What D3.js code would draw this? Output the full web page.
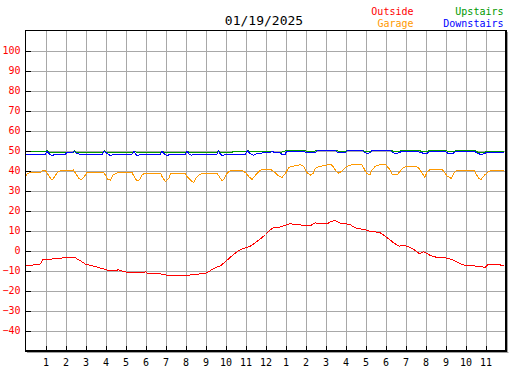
<!DOCTYPE html>
<html>
<head>
<meta charset="utf-8">
<script src="https://cdn.jsdelivr.net/npm/d3@7"></script>
<style>
  body { margin: 0; background: #fff; }
  text { font-family: "DejaVu Sans Mono", monospace; }
</style>
</head>
<body>
<svg id="chart" width="527" height="370"></svg>
<script>
// --- data: [hour, degrees] ---
var title = "01/19/2025";
var hourTicks = d3.range(1, 24);
var tempTicks = d3.range(-40, 101, 10);

var outside = [[0,-7.5],[0.25,-7.5],[0.5,-7.0],[0.75,-6.7],[0.85,-4.6],[1,-4.5],[1.25,-4.5],[1.4,-4.0],[1.75,-4.0],[1.9,-3.5],[2.25,-3.5],[2.5,-3.7],
  [2.75,-5.2],[3,-6.8],[3.25,-7.5],[3.5,-8.1],[3.75,-8.8],[4,-9.5],[4.1,-9.9],[4.55,-9.9],[4.65,-9.6],[4.75,-10.0],[5,-10.7],[5.25,-11.1],[5.85,-11.2],
  [6.0,-10.6],[6.1,-11.6],[6.75,-11.7],[6.9,-12.2],[7.3,-12.4],[7.5,-12.6],[7.75,-12.6],[8,-12.5],[8.25,-12.2],[8.5,-11.8],[8.9,-11.7],[9.05,-11.2],
  [9.25,-10.0],[9.5,-8.5],[9.75,-7.7],[10,-5.5],[10.25,-3.3],[10.5,-1.2],[10.75,0.5],[11,1.4],[11.25,2.2],[11.5,4.0],[11.75,5.8],[12,8.0],
  [12.25,10.5],[12.4,11.3],[12.6,11.3],[12.75,11.8],[13,12.6],[13.3,13.6],[13.35,13.0],[13.75,12.8],[14,12.3],[14.25,12.5],[14.5,13.8],[14.75,13.4],
  [15.1,13.3],[15.25,14.5],[15.5,15.0],[15.7,13.8],[16.05,13.3],[16.25,12.8],[16.5,11.3],[16.75,10.8],[17,10.3],[17.25,9.5],[17.7,9.1],[17.9,7.8],
  [18.2,5.5],[18.45,3.5],[18.7,2.2],[18.95,2.5],[19.2,1.6],[19.45,0.3],[19.7,-1.6],[19.9,-0.6],[20.25,-2.5],[20.55,-3.4],[21.1,-3.8],[21.35,-4.7],
  [21.75,-6.7],[22.1,-7.7],[22.8,-7.8],[22.95,-8.7],[23.1,-7.2],[23.5,-7.0],[23.7,-7.1],[23.9,-7.7]];

var garage = [[0,36.6],[0.1,38.6],[0.25,38.9],[0.75,38.9],[0.83,39.9],[1,40.0],[1.08,38.6],[1.25,36.1],[1.33,35.2],[1.45,36.9],[1.58,38.9],
  [1.75,40.0],[2.25,40.0],[2.4,40.3],[2.5,38.6],[2.67,36.1],[2.78,35.2],[2.92,36.6],[3.05,38.8],[3.25,39.2],[3.9,39.2],[4,37.7],[4.12,35.4],
  [4.25,35.2],[4.38,37.7],[4.6,38.9],[5.33,38.9],[5.42,37.2],[5.58,34.7],[5.72,35.5],[5.83,38.0],[6,38.6],[6.75,38.6],[6.83,36.9],[7,34.4],
  [7.17,36.1],[7.25,38.4],[8,38.4],[8.08,36.9],[8.28,34.9],[8.42,33.9],[8.5,36.1],[8.67,37.7],[8.83,38.6],[9.58,38.6],[9.67,37.2],[9.83,34.9],
  [9.95,36.1],[10.08,38.6],[10.25,40.0],[10.83,40.0],[11,38.9],[11.17,36.9],[11.33,35.5],[11.5,37.7],[11.75,40.2],[12,40.6],[12.25,40.6],
  [12.42,39.4],[12.67,37.2],[12.83,36.6],[13,38.6],[13.17,41.6],[13.42,42.2],[13.75,42.9],[13.92,41.9],[14.08,38.9],[14.25,37.7],[14.38,38.6],
  [14.5,41.1],[14.67,41.9],[15,42.6],[15.25,43.2],[15.38,41.9],[15.55,39.4],[15.67,38.6],[15.83,39.9],[16.05,41.9],[16.33,42.9],[16.75,42.9],
  [16.8,43.2],[16.92,41.1],[17.05,38.6],[17.22,37.9],[17.33,40.2],[17.5,42.2],[17.75,42.9],[18,42.9],[18.17,41.1],[18.33,38.2],[18.58,37.7],
  [18.75,39.9],[18.92,41.6],[19.17,42.2],[19.5,42.2],[19.67,41.1],[19.83,38.6],[19.97,36.6],[20.08,39.4],[20.25,40.6],[20.83,40.6],[20.92,39.4],
  [21.08,37.2],[21.28,36.1],[21.42,38.6],[21.58,40.2],[22.42,40.2],[22.5,38.6],[22.67,36.1],[22.78,35.5],[22.95,37.7],[23.17,39.6],[23.4,40.2],[23.9,40.2]];

var upstairs = [[0,49.7],[1,49.6],[1.08,50.0],[1.2,49.2],[2.4,49.2],[2.45,49.8],[2.55,49.2],[3.9,49.2],[3.95,49.8],[4.05,49.2],[5.4,49.2],
  [5.45,49.7],[5.55,49.2],[6.8,49.2],[6.85,49.7],[6.95,49.2],[8.05,49.2],[8.1,49.7],[8.2,49.2],[9.6,49.2],[9.65,49.7],[9.75,49.2],[11.05,49.3],
  [11.1,50.0],[11.25,49.4],[12.2,49.4],[12.35,49.5],[12.5,49.0],[12.8,49.2],[13,49.8],[14,49.8],[14.1,49.4],[14.4,49.4],[14.5,49.9],[15.6,49.9],
  [15.7,49.4],[15.95,49.4],[16.05,50.0],[16.9,50.0],[17,49.4],[17.2,49.4],[17.3,50.0],[18.3,50.0],[18.4,49.5],[18.7,49.5],[18.8,50.0],[19.7,50.0],
  [19.8,49.5],[20.1,49.5],[20.2,50.0],[21.05,50.0],[21.15,49.3],[21.4,49.3],[21.5,49.9],[22.5,49.9],[22.6,49.2],[22.95,49.2],[23.05,49.7],[23.9,49.7]];

var downstairs = [[0,47.7],[0.1,48.2],[1,48.2],[1.08,49.6],[1.2,48.2],[1.33,47.4],[1.5,48.2],[2,48.2],[2.05,48.9],[2.35,48.9],[2.42,49.6],
  [2.55,48.5],[2.7,48.2],[3.85,48.2],[3.92,49.7],[4.08,48.5],[4.25,47.4],[4.4,48.2],[5.33,48.2],[5.42,49.6],[5.5,48.2],[5.6,47.4],[5.8,48.2],
  [6.75,48.2],[6.83,49.6],[6.95,48.2],[7.08,47.4],[7.25,48.2],[8,48.2],[8.08,49.6],[8.2,48.0],[8.3,47.6],[8.45,48.2],[9.58,48.2],[9.65,49.6],
  [9.75,48.2],[9.85,47.4],[10,48.2],[11,48.2],[11.08,50.0],[11.2,48.7],[11.4,47.6],[11.6,48.5],[12,48.9],[12.25,48.9],[12.33,49.7],[12.45,48.9],
  [12.7,48.9],[12.8,48.2],[13,48.2],[13.05,49.7],[13.9,49.7],[14,49.1],[14.5,49.1],[14.6,49.9],[15.5,49.9],[15.6,49.1],[16,49.1],[16.1,49.9],
  [16.85,49.9],[16.95,48.9],[17.1,48.5],[17.25,48.9],[17.3,49.9],[18.25,49.9],[18.35,48.9],[18.5,48.5],[18.7,48.9],[18.8,49.7],[19.6,49.7],
  [19.7,49.1],[19.95,48.5],[20.1,48.7],[20.2,49.4],[21,49.4],[21.1,48.7],[21.25,48.5],[21.4,48.7],[21.5,49.3],[22.5,49.3],[22.6,48.5],[22.8,48.0],
  [22.95,48.5],[23.05,49.0],[23.9,49.0]];

var series = [
  {name: "Outside", color: "#ff0000", values: outside},
  {name: "Garage", color: "#ff9900", values: garage},
  {name: "Upstairs", color: "#009900", values: upstairs},
  {name: "Downstairs", color: "#0000ff", values: downstairs}
];

var svg = d3.select("#chart");

var x = d3.scaleLinear().domain([0, 24]).range([25.5, 505.5]);
var y = d3.scaleLinear().domain([-50, 110]).range([350.5, 30.5]);

// grid
svg.append("g")
  .attr("transform", "translate(0,350.5)")
  .call(d3.axisBottom(x).tickValues(hourTicks).tickSize(-320).tickFormat(""))
  .call(g => g.select(".domain").remove())
  .selectAll("line").attr("stroke", "#a8a8a8").attr("shape-rendering", "crispEdges");

svg.append("g")
  .attr("transform", "translate(25.5,0)")
  .call(d3.axisLeft(y).tickValues(tempTicks).tickSize(-480).tickFormat(""))
  .call(g => g.select(".domain").remove())
  .selectAll("line").attr("stroke", "#a8a8a8").attr("shape-rendering", "crispEdges");

// lines
var line = d3.line().x(d => x(d[0])).y(d => y(d[1]));

svg.append("g").selectAll("path")
  .data(series).enter()
  .append("path")
  .attr("d", d => line(d.values))
  .attr("fill", "none")
  .attr("stroke", d => d.color)
  .attr("stroke-width", 1)
  .attr("shape-rendering", "crispEdges");

// frame with shadow
svg.append("path")
  .attr("d", "M27,352.5H508.5M507.5,32V352")
  .attr("stroke", "#a0a0a0").attr("fill", "none");
svg.append("rect")
  .attr("x", 25.5).attr("y", 30.5).attr("width", 480).attr("height", 320)
  .attr("fill", "none").attr("stroke", "#000");
svg.append("path")
  .attr("d", "M25,351.5H507M506.5,30V352")
  .attr("stroke", "#000").attr("fill", "none");

// axes
var yAxis = svg.append("g")
  .attr("transform", "translate(25.5,0)")
  .call(d3.axisLeft(y).tickValues(tempTicks).tickSize(-5).tickPadding(5));
yAxis.select(".domain").remove();
yAxis.selectAll("line").attr("stroke", "#000").attr("shape-rendering", "crispEdges");
yAxis.selectAll("text").attr("fill", "#ff0000").style("font-size", "10px")
  .style("font-family", "DejaVu Sans Mono");

var xAxis = svg.append("g")
  .attr("transform", "translate(0,350.5)")
  .call(d3.axisBottom(x).tickValues(hourTicks).tickSize(-5).tickPadding(8)
    .tickFormat(h => (h % 12) || 12));
xAxis.select(".domain").remove();
xAxis.selectAll("line").attr("stroke", "#000").attr("shape-rendering", "crispEdges");
xAxis.selectAll("text").attr("fill", "#000").style("font-size", "10px")
  .style("font-family", "DejaVu Sans Mono");

// title
svg.append("text")
  .attr("x", 264).attr("y", 25)
  .attr("text-anchor", "middle")
  .style("font-size", "13px")
  .text(title);

// legend
var legendPos = [[413.5, 15], [413.5, 27], [503.5, 15], [503.5, 27]];
svg.append("g").selectAll("text")
  .data(series).enter()
  .append("text")
  .attr("x", (d, i) => legendPos[i][0])
  .attr("y", (d, i) => legendPos[i][1])
  .attr("text-anchor", "end")
  .attr("fill", d => d.color)
  .style("font-size", "10px")
  .text(d => d.name);
</script>
</body>
</html>
